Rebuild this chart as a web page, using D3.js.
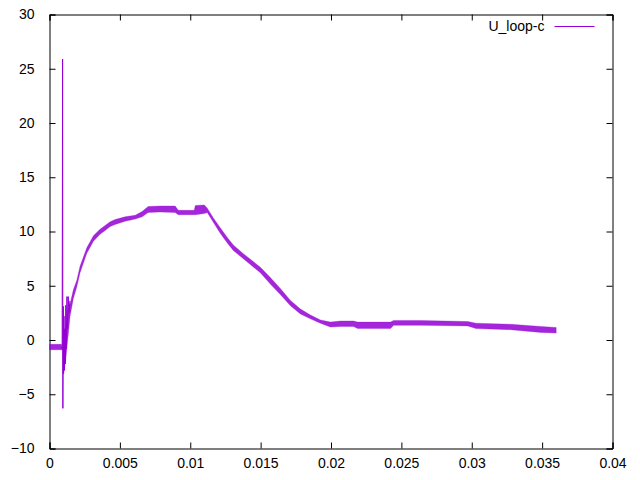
<!DOCTYPE html>
<html>
<head>
<meta charset="utf-8">
<script src="https://cdn.jsdelivr.net/npm/d3@7"></script>
<style>
  body { margin: 0; background: #fff; }
  text { font-family: "Liberation Sans", Arial, sans-serif; font-size: 14px; fill: #000; }
</style>
</head>
<body>
<svg id="chart"></svg>
<script>
// series name shown in the key
const seriesName = 'U_loop-c';

// tick values for both axes
const xTicks = [0, 0.005, 0.01, 0.015, 0.02, 0.025, 0.03, 0.035, 0.04];
const yTicks = [-10, -5, 0, 5, 10, 15, 20, 25, 30];

// noise band of the signal: time, lower and upper edge (NaN = gap at the spike)
const bandTime = [0, 0.00086, 0.0009, 0.00095, 0.00103, 0.00115, 0.00125, 0.00134, 0.00146, 0.00169,
  0.00194, 0.00217, 0.00265, 0.00312, 0.00359, 0.00395, 0.00431, 0.00466, 0.00537, 0.00609,
  0.00658, 0.00701, 0.00786, 0.00893, 0.00915, 0.01028, 0.01036, 0.0110, 0.01121, 0.01164,
  0.01213, 0.01263, 0.01306, 0.01377, 0.01427, 0.01498, 0.01569, 0.0164, 0.01712, 0.01783,
  0.01854, 0.01925, 0.01996, 0.02068, 0.0216, 0.02189, 0.02423, 0.02445, 0.02637, 0.02972,
  0.0303, 0.03278, 0.03491, 0.036];
const bandLow = [-0.9, -0.9, NaN, -3.0, -2.8, -1.9, -0.5, 0.6, 2.2, 3.8,
  4.9, 6.2, 8.0, 9.1, 9.75, 10.1, 10.45, 10.65, 10.95, 11.15,
  11.35, 11.75, 11.8, 11.75, 11.55, 11.55, 11.55, 11.65, 11.75, 10.85,
  9.85, 8.95, 8.25, 7.5, 6.95, 6.2, 5.15, 4.2, 3.15, 2.4,
  1.95, 1.55, 1.2, 1.25, 1.25, 1.05, 1.05, 1.35, 1.35, 1.3,
  1.05, 0.95, 0.7, 0.65];
const bandHigh = [-0.4, -0.4, NaN, 1.0, 0.9, 1.2, 2.2, 2.8, 3.3, 4.6,
  5.5, 6.8, 8.5, 9.6, 10.2, 10.55, 10.9, 11.1, 11.35, 11.5,
  11.85, 12.3, 12.35, 12.35, 11.95, 11.95, 12.4, 12.45, 12.15, 11.25,
  10.35, 9.45, 8.75, 7.95, 7.45, 6.7, 5.75, 4.75, 3.65, 2.85,
  2.3, 1.85, 1.65, 1.75, 1.75, 1.65, 1.65, 1.8, 1.8, 1.7,
  1.55, 1.45, 1.25, 1.15];

// transient around the switching spike
const spikeTime = [0.00085, 0.0009, 0.00093, 0.00095, 0.00098, 0.001, 0.00103, 0.00106, 0.00109,
  0.00112, 0.00116, 0.0012, 0.00124, 0.00128, 0.00133, 0.00138, 0.00145];
const spikeValue = [-0.6, -0.9, 25.9, -6.3, 3.1, -3.1, 2.2, -2.8, 1.0,
  -2.2, 3.2, -0.8, 4.0, 1.0, 4.0, 2.5, 3.6];

class LinePlot {

  constructor(_config) {
    this.config = {
      parentElement: _config.parentElement,
      containerWidth: _config.containerWidth || 640,
      containerHeight: _config.containerHeight || 480,
      margin: _config.margin || {top: 14.5, right: 27.5, bottom: 31.5, left: 49.5}
    };
    this.initVis();
  }

  initVis() {
    let vis = this;

    vis.width = vis.config.containerWidth - vis.config.margin.left - vis.config.margin.right;
    vis.height = vis.config.containerHeight - vis.config.margin.top - vis.config.margin.bottom;

    vis.xScale = d3.scaleLinear().domain([0, 0.04]).range([0, vis.width]);
    vis.yScale = d3.scaleLinear().domain([-10, 30]).range([vis.height, 0]);

    vis.svg = d3.select(vis.config.parentElement)
        .attr('width', vis.config.containerWidth)
        .attr('height', vis.config.containerHeight);

    vis.chart = vis.svg.append('g')
        .attr('transform', `translate(${vis.config.margin.left},${vis.config.margin.top})`);
  }

  renderVis() {
    let vis = this;
    const color = '#9400d3';

    // gnuplot style: inward ticks, mirrored on top and right
    const tick = 6;
    const xBottom = d3.axisBottom(vis.xScale).tickValues(xTicks).tickSize(-tick).tickPadding(tick + 4)
        .tickFormat(d => d === 0 ? '0' : String(+d.toFixed(3)));
    const xTop = d3.axisTop(vis.xScale).tickValues(xTicks).tickSize(-tick).tickFormat('');
    const yLeft = d3.axisLeft(vis.yScale).tickValues(yTicks).tickSize(-tick).tickPadding(tick + 9);
    const yRight = d3.axisRight(vis.yScale).tickValues(yTicks).tickSize(-tick).tickFormat('');

    vis.chart.append('g').attr('transform', `translate(0,${vis.height})`).call(xBottom);
    vis.chart.append('g').call(xTop);
    vis.chart.append('g').call(yLeft);
    vis.chart.append('g').attr('transform', `translate(${vis.width},0)`).call(yRight);

    vis.chart.selectAll('.domain').attr('stroke', '#000');
    vis.chart.selectAll('.tick line').attr('stroke', '#000');
    vis.chart.selectAll('.tick text').style('font-size', '14px').attr('fill', '#000')
        .style('font-family', '"Liberation Sans", Arial, sans-serif');

    // noise band
    const band = bandTime.map((t, i) => ({t: t, lo: bandLow[i], hi: bandHigh[i]}));
    const area = d3.area()
        .defined(d => !isNaN(d.lo))
        .x(d => vis.xScale(d.t))
        .y0(d => vis.yScale(d.lo))
        .y1(d => vis.yScale(d.hi));
    vis.chart.append('path')
        .datum(band)
        .attr('d', area)
        .attr('fill', color)
        .attr('fill-opacity', 0.85)
        .attr('stroke', color)
        .attr('stroke-width', 0.3);

    // spike trace
    const spike = spikeTime.map((t, i) => ({t: t, v: spikeValue[i]}));
    const line = d3.line().x(d => vis.xScale(d.t)).y(d => vis.yScale(d.v));
    vis.chart.append('path')
        .datum(spike)
        .attr('d', line)
        .attr('fill', 'none')
        .attr('stroke', color)
        .attr('stroke-width', 1);

    // key, top right
    const key = vis.chart.append('g').attr('transform', `translate(${vis.width - 18},12)`);
    key.append('line')
        .attr('x1', -40).attr('x2', 0)
        .attr('stroke', color).attr('stroke-width', 1);
    key.append('text')
        .attr('x', -50).attr('dy', '0.32em')
        .attr('text-anchor', 'end')
        .text(seriesName);
  }
}

const plot = new LinePlot({parentElement: '#chart'});
plot.renderVis();
</script>
</body>
</html>
